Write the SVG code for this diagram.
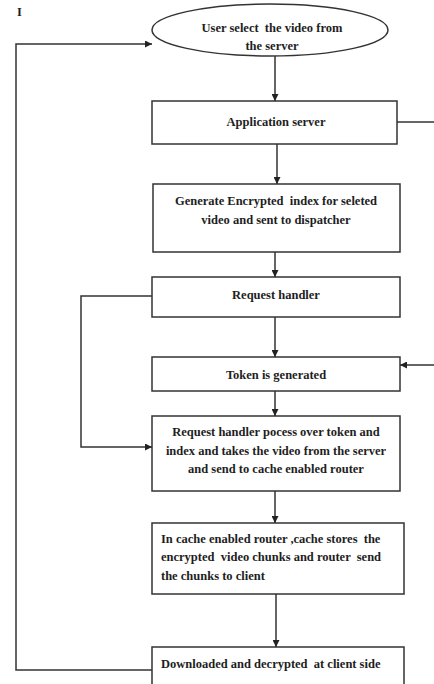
<svg xmlns="http://www.w3.org/2000/svg" width="434" height="684" viewBox="0 0 434 684">
<defs>
<marker id="ah" viewBox="0 0 10 10" refX="10" refY="5" markerWidth="7" markerHeight="7" orient="auto" markerUnits="userSpaceOnUse">
<path d="M0,0 L10,5 L0,10 z" fill="#222"/>
</marker>
</defs>
<style>
.box{fill:#fff;stroke:#333;stroke-width:1.5}
.t{font-family:"Liberation Serif","Times New Roman",serif;font-weight:bold;font-size:12.5px;fill:#1e1e1e;white-space:pre}
.c{text-anchor:middle}
.ln{fill:none;stroke:#333;stroke-width:1.5}
</style>
<rect width="434" height="684" fill="#fff"/>
<text class="t" x="17" y="16" font-size="9">I</text>
<g id="n1">
<ellipse class="box" cx="270" cy="30" rx="118" ry="26"/>
<text class="t c" x="272" y="32">User select  the video from</text>
<text class="t c" x="272" y="50">the server</text>
</g>
<g id="n2">
<rect class="box" x="152" y="101" width="245" height="43"/>
<text class="t c" x="276" y="126">Application server</text>
</g>
<g id="n3">
<rect class="box" x="153" y="184" width="247" height="68"/>
<text class="t c" x="276" y="205">Generate Encrypted  index for seleted</text>
<text class="t c" x="276" y="224">video and sent to dispatcher</text>
</g>
<g id="n4">
<rect class="box" x="152" y="277" width="248" height="40"/>
<text class="t c" x="276" y="299">Request handler</text>
</g>
<g id="n5">
<rect class="box" x="152" y="357" width="248" height="34"/>
<text class="t c" x="276" y="379">Token is generated</text>
</g>
<g id="n6">
<rect class="box" x="152" y="416" width="248" height="75"/>
<text class="t c" x="276" y="436">Request handler pocess over token and</text>
<text class="t c" x="276" y="455">index and takes the video from the server</text>
<text class="t c" x="276" y="473">and send to cache enabled router</text>
</g>
<g id="n7">
<rect class="box" x="152" y="523" width="252" height="71"/>
<text class="t" x="161" y="543">In cache enabled router ,cache stores  the</text>
<text class="t" x="161" y="561">encrypted  video chunks and router  send</text>
<text class="t" x="161" y="580">the chunks to client</text>
</g>
<g id="n8">
<rect class="box" x="152" y="647" width="252" height="40"/>
<text class="t" x="161" y="668">Downloaded and decrypted  at client side</text>
</g>
<g id="edges">
<line class="ln" x1="275" y1="56" x2="275" y2="101" marker-end="url(#ah)"/>
<line class="ln" x1="277" y1="144" x2="277" y2="184" marker-end="url(#ah)"/>
<line class="ln" x1="275" y1="252" x2="275" y2="277" marker-end="url(#ah)"/>
<line class="ln" x1="275" y1="317" x2="275" y2="357" marker-end="url(#ah)"/>
<line class="ln" x1="275" y1="391" x2="275" y2="416" marker-end="url(#ah)"/>
<line class="ln" x1="275" y1="491" x2="275" y2="523" marker-end="url(#ah)"/>
<line class="ln" x1="276" y1="594" x2="276" y2="647" marker-end="url(#ah)"/>
<line class="ln" x1="397" y1="122" x2="434" y2="122"/>
<line class="ln" x1="434" y1="365" x2="400" y2="365" marker-end="url(#ah)"/>
<polyline class="ln" points="152,296 81,296 81,447 152,447" marker-end="url(#ah)"/>
<polyline class="ln" points="152,670 16,670 16,44 152,44" marker-end="url(#ah)"/>
</g>
</svg>
